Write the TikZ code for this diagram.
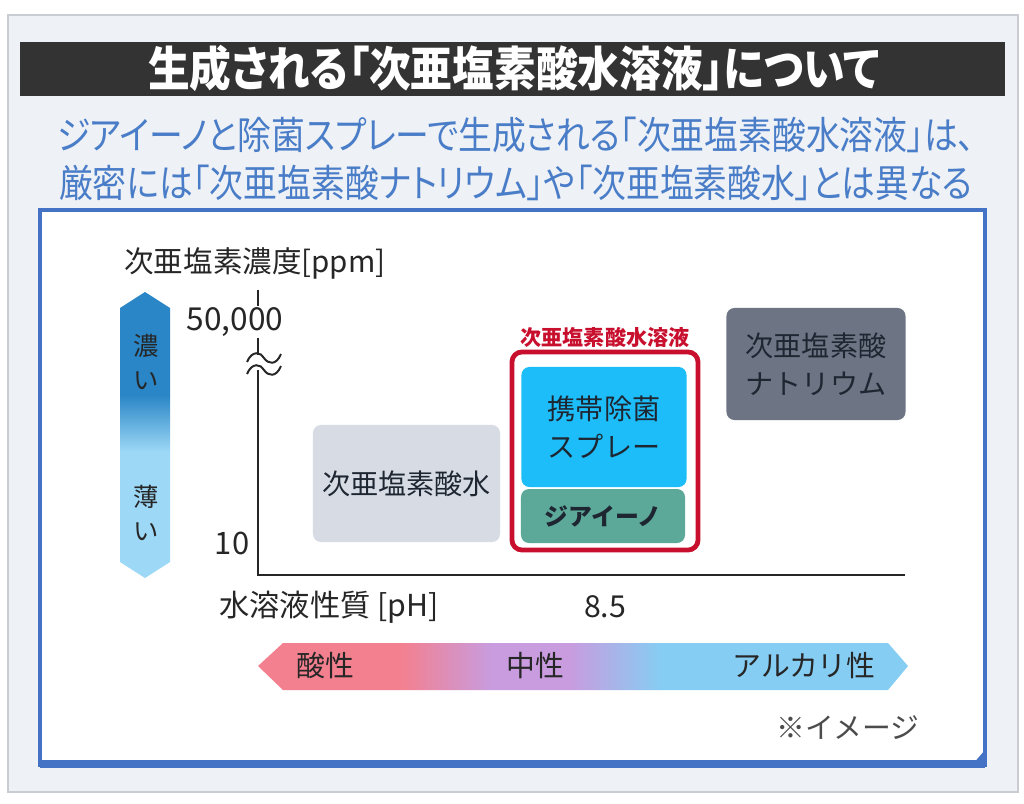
\documentclass[tikz,border=0pt]{standalone}
\usepackage{fontspec}
\setmainfont{Noto Sans CJK JP}
\newfontfamily\narrowfont[FakeStretch=0.88, RawFeature=+palt]{Noto Sans CJK JP}
\definecolor{pagebg}{HTML}{EEF1F6}
\definecolor{pageline}{HTML}{C9CCD1}
\definecolor{titlebg}{HTML}{333333}
\definecolor{leadblue}{HTML}{4A7DC8}
\definecolor{frameblue}{HTML}{4472C4}
\definecolor{densitydark}{HTML}{2A86C6}
\definecolor{densitylight}{HTML}{9DD8F6}
\definecolor{phacid}{HTML}{F3808F}
\definecolor{phneutral}{HTML}{C89CDF}
\definecolor{phalk}{HTML}{86CDF3}
\definecolor{waterbg}{HTML}{D6DBE4}
\definecolor{spraybg}{HTML}{1CBDF8}
\definecolor{ziainobg}{HTML}{5CA899}
\definecolor{sodiumbg}{HTML}{6D7585}
\definecolor{solutionred}{HTML}{C8102E}
\definecolor{inktext}{HTML}{1E2632}
\pgfdeclareverticalshading{densityshade}{100bp}{color(0bp)=(densitylight); color(47bp)=(densitylight); color(57bp)=(densitydark); color(100bp)=(densitydark)}
\pgfdeclarehorizontalshading{phshade}{100bp}{color(0bp)=(phacid); color(36bp)=(phacid); color(43bp)=(phneutral); color(49bp)=(phneutral); color(56bp)=(phalk); color(100bp)=(phalk)}

\begin{document}
\begin{tikzpicture}[
    x = 0.025cm,
    y = -0.025cm,
    every node/.style = {inner sep = 0pt, text = inktext},
    panel/.style = {rectangle, rounded corners = 0.2cm, align = center, font = \fontsize{20}{27}\selectfont},
    caption/.style = {font = \fontsize{20.5}{24}\selectfont, text = black!85},
    axisline/.style = {line width = 1.4pt, black!85}
  ]
    \useasboundingbox[fill = white] (0, 0) rectangle (1024, 803);
    \draw[fill = pagebg, draw = pageline, line width = 1pt] (8, 15) rectangle (1018, 792);

    % heading
    \node[fill = titlebg, minimum width = 24.625cm, minimum height = 1.35cm] (title_bar) at (512.5, 69) {};
    \node[text = white, font = \narrowfont\bfseries\fontsize{33.7}{36}\selectfont] (title) at (514, 68)
      {生成される「次亜塩素酸水溶液」について};
    \node[text = leadblue, align = center, font = \narrowfont\fontsize{27.3}{34}\selectfont] (lead) at (516, 159)
      {ジアイーノと除菌スプレーで生成される「次亜塩素酸水溶液」は、\\
       厳密には「次亜塩素酸ナトリウム」や「次亜塩素酸水」とは異なる};

    % chart panel
    \draw[fill = white, draw = frameblue, line width = 2.8pt] (40, 210) rectangle (985, 765);
    \draw[frameblue, line width = 5pt] (40, 764) -- (985, 764);
    \fill[frameblue] (985, 750) -- (985, 765) -- (972, 765) -- cycle;

    % concentration arrow
    \shade[shading = densityshade] (145, 292) -- (170, 308) -- (170, 562) -- (145, 578)
      -- (120, 562) -- (120, 308) -- cycle;
    \node[caption, align = center, font = \fontsize{18}{24}\selectfont] (dense) at (146, 362) {濃\\い};
    \node[caption, align = center, font = \fontsize{18}{24}\selectfont] (thin) at (146, 513) {薄\\い};

    % axes
    \coordinate (y_top) at (258, 290);
    \coordinate (y_break_top) at (258, 355);
    \coordinate (y_break_bottom) at (258, 370);
    \coordinate (origin) at (258, 575);
    \coordinate (x_end) at (905, 575);
    \draw[axisline] (y_top) -- (y_break_top);
    \draw[axisline] (y_break_bottom) -- (origin) -- (x_end);
    \draw[axisline] (247, 362) .. controls (252, 350) and (261, 352) .. (264, 358)
      .. controls (268, 364) and (276, 366) .. (281, 354);
    \draw[axisline] (247, 374) .. controls (252, 362) and (261, 364) .. (264, 370)
      .. controls (268, 376) and (276, 378) .. (281, 366);
    \node[caption, font = \fontsize{21}{24}\selectfont] (y_title) at (255, 263) {次亜塩素濃度[ppm]};
    \node[caption, fill = white, inner sep = 1pt, font = \fontsize{22.5}{24}\selectfont] (y_high) at (235, 322) {50,000};
    \node[caption, font = \fontsize{22}{24}\selectfont] (y_low) at (232, 543) {10};
    \node[caption, font = \fontsize{21.5}{24}\selectfont] (x_title) at (329, 607) {水溶液性質 [pH]};
    \node[caption, font = \fontsize{21.5}{24}\selectfont] (x_mid) at (605, 607) {8.5};

    % products
    \node[panel, fill = waterbg, minimum width = 4.675cm, minimum height = 2.925cm] (hypo_water) at (406.5, 483.5)
      {次亜塩素酸水};
    \node[panel, fill = spraybg, minimum width = 4.125cm, minimum height = 3cm] (spray) at (604, 427)
      {携帯除菌\\スプレー};
    \node[panel, fill = ziainobg, minimum width = 4.1cm, minimum height = 1.35cm,
      font = \bfseries\fontsize{17}{20}\selectfont] (ziaino) at (603, 516) {ジアイーノ};
    \node[panel, fill = sodiumbg, minimum width = 4.475cm, minimum height = 2.8cm] (sodium) at (816, 364)
      {次亜塩素酸\\ナトリウム};
    \node[draw = solutionred, line width = 3.4pt, rounded corners = 0.25cm,
      minimum width = 4.65cm, minimum height = 4.95cm] (solution_frame) at (605, 451) {};
    \node[text = solutionred, font = \bfseries\fontsize{15}{18}\selectfont] (solution_label) at (605, 337)
      {次亜塩素酸水溶液};

    % pH arrow
    \shade[shading = phshade] (258, 666) -- (283, 643) -- (888, 643) -- (908, 666)
      -- (888, 690) -- (283, 690) -- cycle;
    \node[caption] (acid) at (325, 666) {酸性};
    \node[caption] (neutral) at (535, 666) {中性};
    \node[caption] (alkaline) at (804, 666) {アルカリ性};

    \node[caption, text = black!70] (note) at (848, 728) {※イメージ};
  \end{tikzpicture}
\end{document}
